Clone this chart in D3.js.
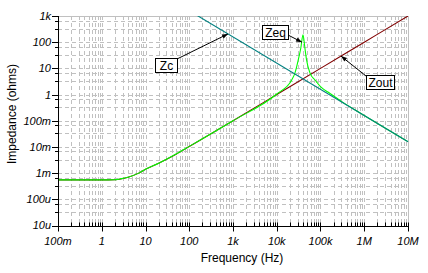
<!DOCTYPE html>
<html>
<head>
<meta charset="utf-8">
<script src="https://cdn.jsdelivr.net/npm/d3@7/dist/d3.min.js"></script>
<style>
  body { margin: 0; background: #fff; }
  svg { display: block; font-family: "Liberation Sans", Arial, sans-serif; }
  .tick-label { font-size: 11px; font-style: italic; fill: #000; }
  .axis-title { font-size: 12px; fill: #000; }
  .note { font-size: 12px; fill: #000; }
</style>
</head>
<body>
<svg id="chart" width="428" height="273"></svg>
<script>
// tick values and labels
const xTicks = [0.1, 1, 10, 100, 1e3, 1e4, 1e5, 1e6, 1e7];
const xTickLabels = ['100m', '1', '10', '100', '1k', '10k', '100k', '1M', '10M'];
const yTicks = [1e-5, 1e-4, 1e-3, 1e-2, 0.1, 1, 10, 100, 1e3];
const yTickLabels = ['10u', '100u', '1m', '10m', '100m', '1', '10', '100', '1k'];
const xMinor = [2, 3, 4, 5, 6, 7, 8, 9];
const yMinor = [3.3, 6.7];

// series (frequency in Hz, impedance in ohms)
const freqZc = [100, 1e7];
const zc = [1590, 0.0159];

const freqZout = [0.1, 1, 2, 4, 7, 10, 20, 50, 100, 1e3, 1e4, 1e5, 1e6, 1e7];
const zout = [5.5e-4, 5.5e-4, 5.6e-4, 7.0e-4, 1.0e-3, 1.4e-3, 2.4e-3, 5.3e-3, 1.03e-2, 0.1, 1, 10, 100, 1000];

const freqZeq = [0.1, 1, 2, 2.6, 4, 7, 10, 20, 50, 100, 1e3, 1e4, 2.2e4, 2.6e4, 3.1e4, 3.55e4, 3.98e4,
  4.4e4, 4.8e4, 5.75e4, 7.5e4, 1e5, 1.65e5, 3e5, 1e6, 1e7];
const zeq = [5.5e-4, 5.5e-4, 5.6e-4, 6.0e-4, 7.0e-4, 1.0e-3, 1.4e-3, 2.4e-3, 5.4e-3, 1.05e-2, 0.1, 1.05, 3.6, 6.6, 21, 60, 190,
  60, 21, 6.6, 3.6, 2.0, 1.1, 0.55, 0.159, 0.0159];

// callouts: label, point it aims at
const notes = [
  { name: 'Zc', f: 770, z: 207, box: [155, 58, 22, 14], from: [177, 59] },
  { name: 'Zeq', f: 37800, z: 100, box: [262, 25, 26, 14], from: [288, 35] },
  { name: 'Zout', f: 294000, z: 29.4, box: [366, 75, 28, 14], from: [366, 76] }
];

var svg = d3.select('#chart'),
  width = +svg.attr('width'),
  height = +svg.attr('height');

const plotLeft = 58, plotRight = 408, plotTop = 16, plotBottom = 225.5;

var x = d3.scaleLog().domain([0.1, 1e7]).range([plotLeft, plotRight]);
var y = d3.scaleLog().domain([1e-5, 1e3]).range([plotBottom, plotTop]);

svg.append('rect').attr('width', width).attr('height', height).attr('fill', '#fff');

// grid
let xGrid = [];
xTicks.slice(0, -1).forEach(d => xMinor.forEach(m => xGrid.push(d * m)));
xGrid = xGrid.concat(xTicks.slice(1, -1));
let yGrid = [];
yTicks.slice(0, -1).forEach(d => yMinor.forEach(m => yGrid.push(d * m)));
yGrid = yGrid.concat(yTicks.slice(1, -1));

var grid = svg.append('g')
  .attr('stroke', '#c0c0c0')
  .attr('stroke-width', 1)
  .attr('stroke-dasharray', '4,3');

grid.selectAll('line.v')
  .data(xGrid)
  .enter()
  .append('line')
  .attr('class', 'v')
  .attr('x1', d => Math.round(x(d)) + 0.5)
  .attr('x2', d => Math.round(x(d)) + 0.5)
  .attr('y1', plotTop)
  .attr('y2', plotBottom);

grid.selectAll('line.h')
  .data(yGrid)
  .enter()
  .append('line')
  .attr('class', 'h')
  .attr('x1', plotLeft)
  .attr('x2', plotRight)
  .attr('y1', d => Math.round(y(d)) + 0.5)
  .attr('y2', d => Math.round(y(d)) + 0.5);

// top and right frame
svg.append('path')
  .attr('d', `M${plotLeft},${plotTop + 0.5}H${plotRight + 0.5}V${plotBottom}`)
  .attr('fill', 'none')
  .attr('stroke', '#c0c0c0');

// curves
svg.append('clipPath').attr('id', 'plot-clip')
  .append('rect')
  .attr('x', plotLeft).attr('y', plotTop)
  .attr('width', plotRight - plotLeft + 1).attr('height', plotBottom - plotTop);

var line = d3.line()
  .x(d => x(d[0]))
  .y(d => y(d[1]))
  .curve(d3.curveMonotoneX);

var series = [
  { pts: freqZout.map((f, i) => [f, zout[i]]), color: '#800000' },
  { pts: freqZeq.map((f, i) => [f, zeq[i]]), color: '#00ff00' },
  { pts: freqZc.map((f, i) => [f, zc[i]]), color: '#008080' }
];

svg.append('g')
  .attr('clip-path', 'url(#plot-clip)')
  .selectAll('path')
  .data(series)
  .enter()
  .append('path')
  .attr('d', d => line(d.pts))
  .attr('fill', 'none')
  .attr('stroke', d => d.color)
  .attr('stroke-width', 1.1);

// axes
var axes = svg.append('g').attr('stroke', '#000').attr('stroke-width', 1);
const by = Math.round(plotBottom) + 0.5;

axes.append('line').attr('x1', plotLeft + 0.5).attr('x2', plotLeft + 0.5).attr('y1', plotTop).attr('y2', by);
axes.append('line').attr('x1', plotLeft).attr('x2', plotRight + 1).attr('y1', by).attr('y2', by);

let xMinorTicks = [];
xTicks.slice(0, -1).forEach(d => xMinor.forEach(m => xMinorTicks.push(d * m)));
axes.selectAll('line.xminor')
  .data(xMinorTicks)
  .enter()
  .append('line')
  .attr('class', 'xminor')
  .attr('x1', d => Math.round(x(d)) + 0.5)
  .attr('x2', d => Math.round(x(d)) + 0.5)
  .attr('y1', by - 4)
  .attr('y2', by);

axes.selectAll('line.xmajor')
  .data(xTicks)
  .enter()
  .append('line')
  .attr('class', 'xmajor')
  .attr('x1', d => Math.round(x(d)) + 0.5)
  .attr('x2', d => Math.round(x(d)) + 0.5)
  .attr('y1', by - 4)
  .attr('y2', by + 5);

let yMinorTicks = [];
yTicks.slice(0, -1).forEach(d => yMinor.forEach(m => yMinorTicks.push(d * m)));
axes.selectAll('line.yminor')
  .data(yMinorTicks)
  .enter()
  .append('line')
  .attr('class', 'yminor')
  .attr('x1', plotLeft - 3)
  .attr('x2', plotLeft + 1)
  .attr('y1', d => Math.round(y(d)) + 0.5)
  .attr('y2', d => Math.round(y(d)) + 0.5);

axes.selectAll('line.ymajor')
  .data(yTicks)
  .enter()
  .append('line')
  .attr('class', 'ymajor')
  .attr('x1', plotLeft - 6)
  .attr('x2', plotLeft + 1)
  .attr('y1', d => Math.round(y(d)) + 0.5)
  .attr('y2', d => Math.round(y(d)) + 0.5);

svg.selectAll('text.xlab')
  .data(xTicks)
  .enter()
  .append('text')
  .attr('class', 'tick-label')
  .attr('x', d => x(d))
  .attr('y', 245)
  .attr('text-anchor', 'middle')
  .text((d, i) => xTickLabels[i]);

svg.selectAll('text.ylab')
  .data(yTicks)
  .enter()
  .append('text')
  .attr('class', 'tick-label')
  .attr('x', plotLeft - 7)
  .attr('y', d => y(d))
  .attr('dy', '0.36em')
  .attr('text-anchor', 'end')
  .text((d, i) => yTickLabels[i]);

svg.append('text')
  .attr('class', 'axis-title')
  .attr('x', 242)
  .attr('y', 262)
  .attr('text-anchor', 'middle')
  .text('Frequency (Hz)');

svg.append('text')
  .attr('class', 'axis-title')
  .attr('transform', 'translate(16,114) rotate(-90)')
  .attr('text-anchor', 'middle')
  .text('Impedance (ohms)');

// callouts
var note = svg.selectAll('g.note')
  .data(notes)
  .enter()
  .append('g')
  .attr('class', 'note');

note.append('line')
  .attr('x1', d => d.from[0])
  .attr('y1', d => d.from[1])
  .attr('x2', d => x(d.f))
  .attr('y2', d => y(d.z))
  .attr('stroke', '#000');

note.append('path')
  .attr('d', d => {
    const tx = x(d.f), ty = y(d.z);
    const a = Math.atan2(ty - d.from[1], tx - d.from[0]);
    const len = 6, w = 2.2;
    const bx = tx - len * Math.cos(a), byy = ty - len * Math.sin(a);
    return `M${tx},${ty}L${bx - w * Math.sin(a)},${byy + w * Math.cos(a)}L${bx + w * Math.sin(a)},${byy - w * Math.cos(a)}Z`;
  })
  .attr('fill', '#000');

note.append('rect')
  .attr('x', d => d.box[0] + 0.5)
  .attr('y', d => d.box[1] + 0.5)
  .attr('width', d => d.box[2])
  .attr('height', d => d.box[3])
  .attr('fill', '#fff')
  .attr('stroke', '#000');

note.append('text')
  .attr('x', d => d.box[0] + d.box[2] / 2 + 0.5)
  .attr('y', d => d.box[1] + d.box[3] / 2 + 0.5)
  .attr('dy', '0.36em')
  .attr('text-anchor', 'middle')
  .text(d => d.name);
</script>
</body>
</html>
